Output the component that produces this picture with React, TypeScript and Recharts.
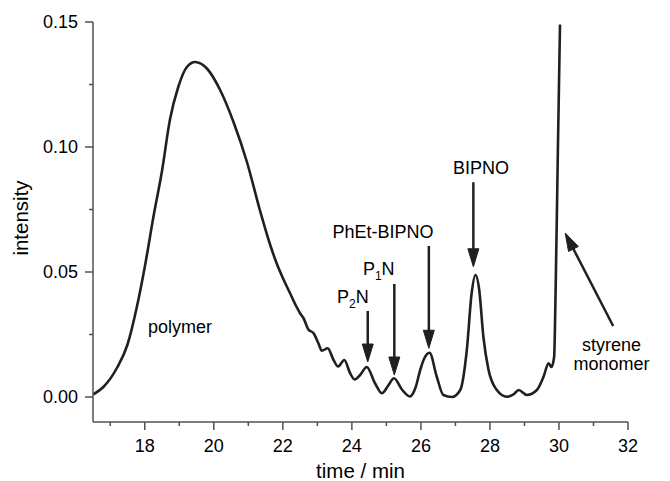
import React from 'react';
import { LineChart, Line, XAxis, YAxis, ReferenceLine, ReferenceDot } from 'recharts';

// elution time (min)
const times = [
  16.5, 16.8, 17.2, 17.5, 17.77, 18.0, 18.25, 18.5, 18.73, 18.97, 19.22, 19.46, 19.8, 20.18, 20.57, 20.96,
  21.34, 21.63, 21.82, 22.02, 22.21, 22.4, 22.5, 22.6, 22.74, 22.89, 23.03, 23.13, 23.3, 23.47, 23.6, 23.78,
  23.95, 24.08, 24.25, 24.43, 24.67, 24.87, 25.05, 25.22, 25.45, 25.68, 25.85, 25.98, 26.1, 26.25, 26.46,
  26.65, 26.9, 27.14, 27.33, 27.47, 27.58, 27.69, 27.81, 27.96, 28.2, 28.49, 28.7, 28.83, 29.07, 29.36,
  29.55, 29.7, 29.78, 29.86, 29.9, 29.97, 30.03,
];
// detector intensity
const intensity = [
  0.001, 0.004, 0.0118, 0.021, 0.036, 0.052, 0.072, 0.0905, 0.111, 0.124, 0.132, 0.134, 0.1314, 0.1229, 0.11, 0.094,
  0.0745, 0.061, 0.0535, 0.047, 0.0415, 0.036, 0.0335, 0.0315, 0.027, 0.0255, 0.0215, 0.0185, 0.0195, 0.0148, 0.0122, 0.0148,
  0.0095, 0.007, 0.009, 0.012, 0.0055, 0.0015, 0.0045, 0.0075, 0.003, 0.0002, 0.004, 0.0108, 0.0155, 0.0177, 0.0081,
  0.0008, 0.0, 0.0028, 0.0188, 0.0415, 0.0488, 0.0428, 0.0241, 0.0108, 0.0028, 0.0001, 0.0012, 0.0028, 0.0008, 0.0028,
  0.008, 0.0135, 0.012, 0.016, 0.04, 0.1, 0.149,
];

const xMajorTicks = [18, 20, 22, 24, 26, 28, 30, 32];
const xMinorTicks = [17, 19, 21, 23, 25, 27, 29, 31];
const yMajorTicks = [0, 0.05, 0.1, 0.15];
const yMinorTicks = [0.025, 0.075, 0.125];

// arrows: tail -> tip
const arrowLabels = ['P2N', 'P1N', 'PhEt-BIPNO', 'BIPNO', 'styrene monomer'];
const arrowTailX = [24.46, 25.23, 26.23, 27.52, 31.57];
const arrowTailY = [0.0344, 0.0452, 0.0604, 0.0859, 0.0284];
const arrowTipX = [24.46, 25.23, 26.23, 27.52, 30.18];
const arrowTipY = [0.014, 0.0088, 0.0195, 0.0521, 0.0656];

// text labels
const labelTexts = ['polymer', 'P|2|N', 'P|1|N', 'PhEt-BIPNO', 'BIPNO', 'styrene', 'monomer'];
const labelX = [19.02, 23.57, 24.32, 24.9, 27.74, 31.52, 31.52];
const labelY = [0.0256, 0.0376, 0.0488, 0.0635, 0.0892, 0.0184, 0.0108];
const labelAnchor = ['middle', 'start', 'start', 'middle', 'middle', 'middle', 'middle'];

const data = times.map((t, i) => ({ t, v: intensity[i] }));

const FONT = '"Liberation Sans", Arial, Helvetica, sans-serif';
const INK = '#231f20';
const AXIS = '#505050';
const FS = 18;
const TITLE_FS = 20.5;

const XTick = (props: any) => {
  const { x, y, payload } = props;
  const axisY = y - 10;
  const major = xMajorTicks.includes(payload.value);
  return (
    <g>
      <line x1={x} y1={axisY} x2={x} y2={axisY + (major ? 8 : 4)} stroke={AXIS} strokeWidth={1.5} />
      {major && (
        <text x={x} y={axisY + 30} textAnchor="middle" fontFamily={FONT} fontSize={FS} fill="#000">
          {payload.value}
        </text>
      )}
    </g>
  );
};

const YTick = (props: any) => {
  const { x, y, payload } = props;
  const axisX = x + 10;
  const major = yMajorTicks.includes(payload.value);
  return (
    <g>
      <line x1={axisX} y1={y} x2={axisX - (major ? 8 : 4)} y2={y} stroke={AXIS} strokeWidth={1.5} />
      {major && (
        <text x={axisX - 15} y={y + 6} textAnchor="end" fontFamily={FONT} fontSize={FS} fill="#000">
          {Number(payload.value).toFixed(2)}
        </text>
      )}
    </g>
  );
};

const ArrowShape = (props: any) => {
  const { x1, y1, x2, y2 } = props;
  const dx = x2 - x1;
  const dy = y2 - y1;
  const len = Math.hypot(dx, dy) || 1;
  const ux = dx / len;
  const uy = dy / len;
  const head = 18;
  const hw = 5.5;
  const bx = x2 - ux * head;
  const by = y2 - uy * head;
  const pts = `${x2},${y2} ${bx - uy * hw},${by + ux * hw} ${bx + uy * hw},${by - ux * hw}`;
  return (
    <g>
      <line x1={x1} y1={y1} x2={bx + ux * 2} y2={by + uy * 2} stroke={INK} strokeWidth={2.5} />
      <polygon points={pts} fill={INK} stroke={INK} strokeWidth={1} strokeLinejoin="miter" />
    </g>
  );
};

const makeLabelShape = (text: string, anchor: string) => (props: any) => {
  const { cx, cy } = props;
  const parts = text.split('|');
  if (parts.length === 3) {
    return (
      <text x={cx} y={cy} textAnchor={anchor as any} fontFamily={FONT} fontSize={FS} fill="#000">
        <tspan>{parts[0]}</tspan>
        <tspan dy={5} fontSize={12}>{parts[1]}</tspan>
        <tspan dy={-5}>{parts[2]}</tspan>
      </text>
    );
  }
  return (
    <text x={cx} y={cy} textAnchor={anchor as any} fontFamily={FONT} fontSize={FS} fill="#000">
      {text}
    </text>
  );
};

export default function App() {
  return (
    <div style={{ position: 'absolute', left: 0, top: 0, width: 670, height: 481, background: '#fff' }}>
      <LineChart width={670} height={481} data={data} margin={{ top: 22, right: 42, left: 0, bottom: 0 }}>
        <XAxis
          dataKey="t"
          type="number"
          domain={[16.5, 32]}
          allowDataOverflow
          ticks={[...xMajorTicks, ...xMinorTicks].sort((a, b) => a - b)}
          interval={0}
          height={59}
          tickSize={8}
          tickMargin={2}
          tickLine={false}
          tick={<XTick />}
          axisLine={{ stroke: AXIS, strokeWidth: 1.5 }}
          label={{
            content: (p: any) => {
              const vb = p.viewBox || { x: 93, y: 422, width: 535 };
              return (
                <text x={vb.x + vb.width / 2} y={vb.y + 56} textAnchor="middle" fontFamily={FONT} fontSize={TITLE_FS} fill="#000">
                  time / min
                </text>
              );
            },
          }}
        />
        <YAxis
          type="number"
          domain={[-0.01, 0.15]}
          allowDataOverflow
          ticks={[...yMajorTicks, ...yMinorTicks].sort((a, b) => a - b)}
          interval={0}
          width={93}
          tickSize={8}
          tickMargin={2}
          tickLine={false}
          tick={<YTick />}
          axisLine={{ stroke: AXIS, strokeWidth: 1.5 }}
          label={{
            content: (p: any) => {
              const vb = p.viewBox || { x: 0, y: 22, height: 400 };
              const cy = vb.y + vb.height / 2 - 4;
              return (
                <text x={28} y={cy} transform={`rotate(-90, 28, ${cy})`} textAnchor="middle" fontFamily={FONT} fontSize={TITLE_FS} fill="#000">
                  intensity
                </text>
              );
            },
          }}
        />
        <Line
          type="monotone"
          dataKey="v"
          stroke={INK}
          strokeWidth={2.6}
          dot={false}
          activeDot={false}
          isAnimationActive={false}
        />
        {arrowLabels.map((name, i) => (
          <ReferenceLine
            key={name}
            segment={[
              { x: arrowTailX[i], y: arrowTailY[i] },
              { x: arrowTipX[i], y: arrowTipY[i] },
            ]}
            shape={ArrowShape}
          />
        ))}
        {labelTexts.map((txt, i) => (
          <ReferenceDot
            key={txt + i}
            x={labelX[i]}
            y={labelY[i]}
            r={0}
            shape={makeLabelShape(txt, labelAnchor[i])}
          />
        ))}
      </LineChart>
    </div>
  );
}
